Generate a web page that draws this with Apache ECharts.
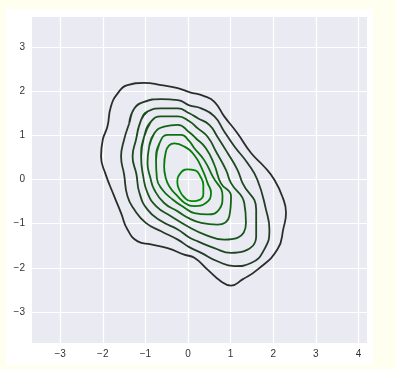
<!DOCTYPE html>
<html>
<head>
<meta charset="utf-8">
<script src="https://cdn.jsdelivr.net/npm/echarts@6/dist/echarts.min.js"></script>
<style>
  html, body { margin: 0; padding: 0; background: #fffff0; }
  #chart { width: 396px; height: 369px; }
</style>
</head>
<body>
<div id="chart"></div>
<script>
// Tick values
const xTicks = [-3, -2, -1, 0, 1, 2, 3, 4];
const yTicks = [-3, -2, -1, 0, 1, 2, 3];

// Contour lines (outer -> inner), points in data coordinates
const contour1 = [[-1.42,2.14],[-1.03,2.19],[-0.63,2.14],[-0.24,2.07],[0.03,1.98],[0.38,1.89],[0.62,1.76],[0.85,1.43],[1.16,1.05],[1.48,0.60],[1.79,0.29],[2.03,-0.01],[2.22,-0.40],[2.30,-0.75],[2.24,-1.10],[2.10,-1.58],[1.63,-2.04],[1.28,-2.26],[1.01,-2.40],[0.77,-2.30],[0.46,-2.04],[0.15,-1.77],[-0.09,-1.70],[-0.48,-1.55],[-0.87,-1.47],[-1.18,-1.40],[-1.42,-1.13],[-1.57,-0.76],[-1.73,-0.38],[-1.94,0.14],[-2.04,0.52],[-2.00,0.90],[-1.89,1.20],[-1.81,1.65],[-1.65,1.95]];
const contour2 = [[-1.26,1.61],[-1.03,1.76],[-0.63,1.82],[-0.24,1.80],[0.03,1.68],[0.31,1.61],[0.62,1.43],[0.85,1.09],[1.09,0.75],[1.40,0.37],[1.63,-0.01],[1.83,-0.68],[1.91,-1.13],[1.79,-1.58],[1.48,-1.89],[1.09,-1.96],[0.69,-1.85],[0.31,-1.66],[0.03,-1.53],[-0.24,-1.36],[-0.63,-1.17],[-0.99,-0.98],[-1.26,-0.68],[-1.42,-0.38],[-1.50,0.12],[-1.57,0.52],[-1.50,0.90],[-1.38,1.27]];
const contour3 = [[-1.10,1.35],[-0.95,1.54],[-0.63,1.61],[-0.24,1.61],[0.03,1.50],[0.23,1.39],[0.50,1.24],[0.69,0.97],[0.93,0.60],[1.16,0.22],[1.28,-0.08],[1.60,-0.68],[1.60,-1.28],[1.32,-1.62],[1.01,-1.66],[0.62,-1.55],[0.23,-1.40],[0.03,-1.31],[-0.24,-1.13],[-0.63,-0.94],[-0.95,-0.68],[-1.14,-0.30],[-1.21,0.12],[-1.30,0.52],[-1.22,0.90]];
const contour4 = [[-1.03,0.97],[-0.87,1.31],[-0.63,1.43],[-0.24,1.43],[0.03,1.32],[0.23,1.16],[0.46,0.97],[0.66,0.63],[0.89,0.22],[1.01,-0.08],[1.32,-0.53],[1.36,-0.98],[1.16,-1.32],[0.85,-1.36],[0.38,-1.24],[0.03,-1.08],[-0.40,-0.83],[-0.75,-0.60],[-0.95,-0.30],[-1.05,0.07],[-1.10,0.52]];
const contour5 = [[-0.91,0.75],[-0.79,1.05],[-0.56,1.20],[-0.24,1.24],[0.03,1.07],[0.19,0.93],[0.42,0.71],[0.62,0.33],[0.77,-0.08],[1.01,-0.38],[0.97,-0.83],[0.69,-1.02],[0.31,-0.98],[0.03,-0.88],[-0.24,-0.72],[-0.56,-0.53],[-0.79,-0.23],[-0.88,0.03],[-0.95,0.37]];
const contour6 = [[-0.75,0.44],[-0.67,0.82],[-0.48,1.01],[-0.16,1.01],[0.03,0.87],[0.15,0.71],[0.38,0.44],[0.58,0.07],[0.81,-0.38],[0.73,-0.68],[0.46,-0.79],[0.15,-0.76],[-0.09,-0.63],[-0.36,-0.45],[-0.60,-0.23],[-0.73,0.03]];
const contour7 = [[-0.56,0.29],[-0.52,0.63],[-0.32,0.82],[-0.09,0.75],[0.15,0.55],[0.34,0.22],[0.46,-0.08],[0.54,-0.30],[0.42,-0.53],[0.15,-0.60],[-0.06,-0.54],[-0.24,-0.38],[-0.44,-0.15],[-0.53,0.07]];
const contour8 = [[-0.02,0.23],[0.17,0.21],[0.29,0.07],[0.36,-0.13],[0.36,-0.33],[0.24,-0.47],[0.08,-0.49],[-0.09,-0.40],[-0.20,-0.24],[-0.25,-0.06],[-0.18,0.14]];

const contours = [contour1, contour2, contour3, contour4, contour5, contour6, contour7, contour8];
const lineColors = ['#2b2d2b', '#253b27', '#1f4722', '#1a541d', '#146118', '#0e6e12', '#087a0c', '#028706'];

// wrap so the closing point is smoothed like every other point
function closed(arr) { return [arr[arr.length - 1]].concat(arr, [arr[0], arr[1]]); }
function fmt(v) { return String(v).replace('-', '\u2212'); }

const chart = echarts.init(document.getElementById('chart'), null, { renderer: 'canvas' });
chart.setOption({
  backgroundColor: '#fffff0',
  animation: false,
  graphic: [{
    type: 'rect', z: -10, silent: true,
    shape: { x: 6, y: 9, width: 367, height: 356 },
    style: { fill: '#ffffff' }
  }],
  grid: { left: 32, top: 17, right: 29, bottom: 26, show: true, backgroundColor: '#eaeaf2', borderWidth: 0 },
  xAxis: {
    type: 'value', min: -3.66, max: 4.2,
    axisLine: { show: false },
    axisTick: { show: false, customValues: xTicks },
    axisLabel: { customValues: xTicks, formatter: fmt, color: '#333', fontSize: 10, fontFamily: 'Liberation Sans, Arial, sans-serif', margin: 6 },
    splitLine: { show: true, lineStyle: { color: '#ffffff', width: 1.2 } }
  },
  yAxis: {
    type: 'value', min: -3.70, max: 3.68,
    axisLine: { show: false },
    axisTick: { show: false, customValues: yTicks },
    axisLabel: { customValues: yTicks, formatter: fmt, color: '#333', fontSize: 10, fontFamily: 'Liberation Sans, Arial, sans-serif', margin: 7 },
    splitLine: { show: true, lineStyle: { color: '#ffffff', width: 1.2 } }
  },
  series: contours.map((c, i) => ({
    type: 'line',
    data: closed(c),
    smooth: 0.5,
    symbol: 'none',
    clip: true,
    lineStyle: { color: lineColors[i], width: 1.8 },
    z: 2 + i
  }))
});
</script>
</body>
</html>
